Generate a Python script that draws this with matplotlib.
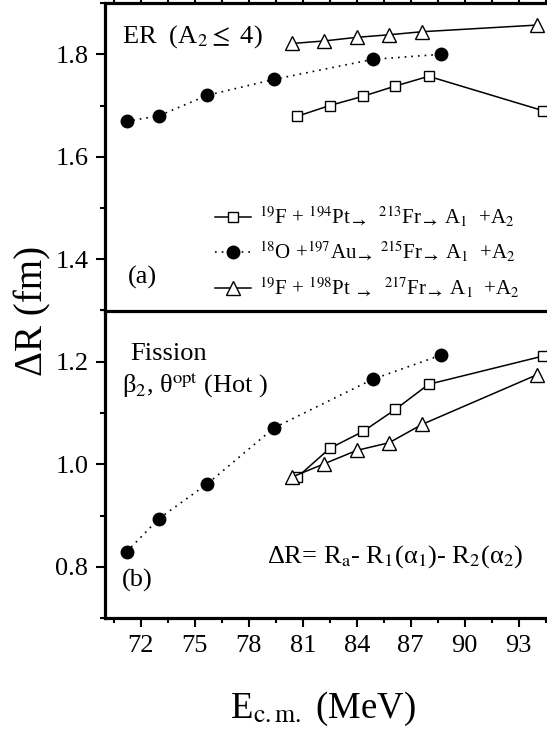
import matplotlib
matplotlib.use('Agg')
import matplotlib.pyplot as plt
from matplotlib.ticker import MultipleLocator
from matplotlib.lines import Line2D

plt.rcParams['font.family'] = ['Liberation Serif', 'DejaVu Serif']
plt.rcParams['mathtext.fontset'] = 'stix'

# ---- data ----
x_au = [71.2, 73.0, 75.7, 79.4, 84.9, 88.7]
er_au = [1.669, 1.680, 1.720, 1.751, 1.790, 1.800]
fis_au = [0.829, 0.894, 0.962, 1.071, 1.166, 1.213]

x_pt194 = [80.7, 82.5, 84.35, 86.15, 88.0, 94.35]
er_pt194 = [1.679, 1.700, 1.718, 1.738, 1.757, 1.690]
fis_pt194 = [0.975, 1.031, 1.064, 1.107, 1.156, 1.211]

x_pt198 = [80.4, 82.2, 84.0, 85.8, 87.65, 94.05]
er_pt198 = [1.821, 1.826, 1.833, 1.838, 1.844, 1.857]
fis_pt198 = [0.975, 1.001, 1.027, 1.042, 1.078, 1.175]

x_ticks = [72, 75, 78, 81, 84, 87, 90, 93]
ya_ticks = [1.4, 1.6, 1.8]
yb_ticks = [0.8, 1.0, 1.2]

arr = r"$_{\boldsymbol{\rightarrow}}$"
lab194 = r"$^{19}$F + $^{194}$Pt" + arr + r"  $^{213}$Fr" + arr + r" A$_1$  +A$_2$"
lab197 = r"$^{18}$O +$^{197}$Au" + arr + r" $^{215}$Fr" + arr + r" A$_1$  +A$_2$"
lab198 = r"$^{19}$F + $^{198}$Pt " + arr + r"  $^{217}$Fr" + arr + r" A$_1$  +A$_2$"

W, H = 547, 736
fig = plt.figure(figsize=(W / 100, H / 100), dpi=100)

left_px, right_px = 105, 554.5
top_px, mid_px, bot_px = 3, 310.5, 618
axw = (right_px - left_px) / W
ax1 = fig.add_axes([left_px / W, 1 - mid_px / H, axw, (mid_px - top_px) / H])
ax2 = fig.add_axes([left_px / W, 1 - bot_px / H, axw, (bot_px - mid_px) / H], sharex=ax1)
ax1.patch.set_visible(False)
ax2.patch.set_visible(False)

dot = (0, (1, 3))
sq = dict(marker='s', ms=7.5, mfc='white', mec='black', mew=1.0, color='black', lw=1.1)
ci = dict(marker='o', ms=9, mfc='black', mec='black', color='black', lw=1.2, ls=dot)
tr = dict(marker='^', ms=9.5, mfc='white', mec='black', mew=1.0, color='black', lw=1.1)

ax1.plot(x_pt194, er_pt194, clip_on=False, **sq)
ax1.plot(x_au, er_au, **ci)
ax1.plot(x_pt198, er_pt198, clip_on=False, **tr)

ax2.plot(x_pt194, fis_pt194, clip_on=False, **sq)
ax2.plot(x_au, fis_au, **ci)
ax2.plot(x_pt198, fis_pt198, clip_on=False, **tr)

ax1.set_ylim(1.3, 1.9)
ax2.set_ylim(0.7, 1.3)
ax1.set_xlim(70, 95)

for ax, yt in ((ax1, ya_ticks), (ax2, yb_ticks)):
    ax.set_yticks(yt)
    ax.yaxis.set_minor_locator(MultipleLocator(0.1))
    ax.xaxis.set_minor_locator(MultipleLocator(1.5))
    ax.set_xticks(x_ticks)
    for s in ax.spines.values():
        s.set_linewidth(2.3)
    ax.tick_params(which='both', direction='out', width=1.5, labelsize=19, pad=5.5)
    ax.tick_params(which='major', length=6.5)
    ax.tick_params(which='minor', length=3.5)
    ax.spines['right'].set_visible(False)

ax1.tick_params(axis='x', which='both', bottom=False, labelbottom=False, top=True, length=2)
ax2.tick_params(axis='x', which='both', top=False)
ax2.tick_params(axis='x', pad=6)
ax2.spines['top'].set_visible(False)
ax1.set_yticklabels([f"{v:.1f}" for v in ya_ticks])
ax2.set_yticklabels([f"{v:.1f}" for v in yb_ticks])

handles = [Line2D([], [], **sq), Line2D([], [], **ci), Line2D([], [], **tr)]
ax1.legend(handles, [lab194, lab197, lab198], loc='upper left',
           bbox_to_anchor=(0.245, 0.345), frameon=False, fontsize=15,
           handlelength=1.7, handletextpad=0.4, labelspacing=0.55,
           borderpad=0, borderaxespad=0, numpoints=1)

ax1.text(0.038, 0.871, r"ER  (A$_2$$\leq$ 4)", transform=ax1.transAxes, fontsize=19, va='baseline')
ax1.text(0.05, 0.086, "(a)", transform=ax1.transAxes, fontsize=19, va='baseline')
ax2.text(0.0556, 0.839, "Fission", transform=ax2.transAxes, fontsize=19, va='baseline')
ax2.text(0.038, 0.732, r"β$_2$, θ$^{\rm opt}$ (Hot )", transform=ax2.transAxes, fontsize=19, va='baseline')
ax2.text(0.038, 0.101, "(b)", transform=ax2.transAxes, fontsize=19, va='baseline')
ax2.text(0.36, 0.179, r"ΔR= R$_{\rm a}$- R$_1$(α$_1$)- R$_2$(α$_2$)",
         transform=ax2.transAxes, fontsize=19, va='baseline')

fig.text(33 / W, 1 - 310.5 / H, r"ΔR (fm)", rotation=90, fontsize=28, ha='center', va='center')
fig.text(323 / W, 1 - 718 / H, r"E$_{\rm c.m.}$ (MeV)", fontsize=26.5, ha='center', va='baseline')

fig.savefig('out.png', dpi=100)
